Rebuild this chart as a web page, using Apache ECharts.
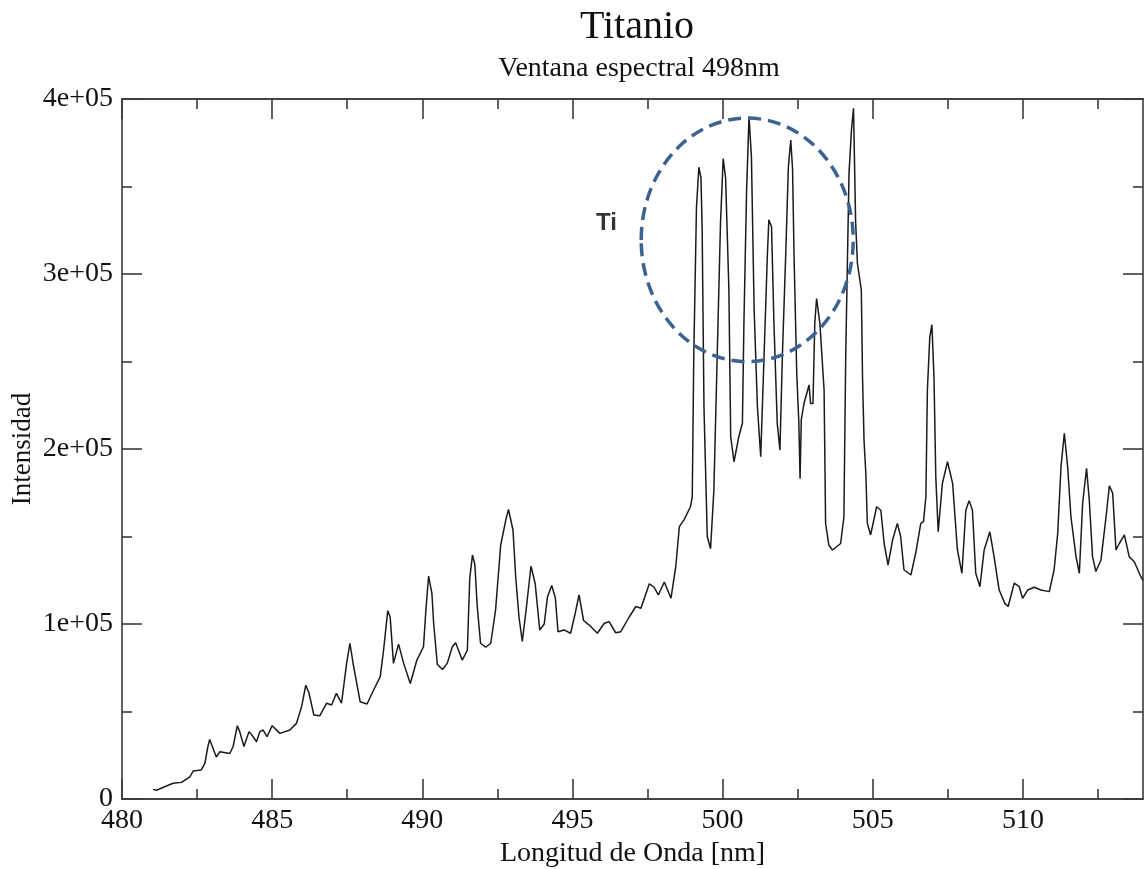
<!DOCTYPE html>
<html>
<head>
<meta charset="utf-8">
<script src="https://cdn.jsdelivr.net/npm/echarts@6/dist/echarts.min.js"></script>
<style>
html,body{margin:0;padding:0;background:#fff;}
#chart{width:1144px;height:869px;}
</style>
</head>
<body>
<div id="chart"></div>
<script>
// Wavelength (nm)
const wavelength = [
481.03,481.15,481.48,481.7,481.98,482.26,482.37,482.64,482.76,482.86,482.92,482.98,483.14,483.26,483.59,483.7,483.84,483.92,484.06,484.23,
484.35,484.48,484.59,484.7,484.83,485.0,485.26,485.59,485.81,485.98,486.12,486.22,486.39,486.59,486.81,486.98,487.14,487.31,487.48,487.59,
487.7,487.93,488.16,488.38,488.6,488.71,488.85,488.93,489.04,489.21,489.38,489.6,489.82,490.04,490.12,490.21,490.32,490.38,490.5,490.67,
490.83,491.0,491.11,491.33,491.5,491.58,491.67,491.75,491.83,491.94,492.11,492.28,492.44,492.61,492.78,492.87,493.02,493.11,493.22,493.33,
493.47,493.62,493.76,493.91,494.06,494.17,494.31,494.43,494.52,494.72,494.94,495.09,495.22,495.37,495.56,495.83,496.06,496.22,496.44,496.61,
496.89,497.11,497.28,497.56,497.72,497.86,498.06,498.28,498.44,498.56,498.71,498.93,498.99,499.04,499.13,499.21,499.28,499.32,499.38,499.49,
499.6,499.71,499.82,499.93,500.02,500.1,500.21,500.27,500.38,500.54,500.66,500.71,500.8,500.88,500.96,501.05,501.16,501.27,501.38,501.49,
501.54,501.63,501.71,501.82,501.91,501.99,502.1,502.19,502.27,502.33,502.38,502.47,502.54,502.58,502.62,502.71,502.88,502.93,503.01,503.07,
503.13,503.24,503.38,503.43,503.54,503.66,503.93,504.04,504.1,504.21,504.29,504.36,504.43,504.49,504.62,504.66,504.71,504.77,504.82,504.93,
505.13,505.27,505.38,505.51,505.66,505.82,505.93,506.04,506.27,506.43,506.6,506.69,506.77,506.82,506.9,506.97,507.04,507.1,507.18,507.32,
507.49,507.66,507.82,507.97,508.1,508.21,508.32,508.43,508.57,508.71,508.9,509.04,509.21,509.4,509.51,509.71,509.88,509.99,510.16,510.38,
510.6,510.88,511.04,511.16,511.27,511.38,511.49,511.6,511.77,511.88,511.99,512.12,512.21,512.32,512.43,512.6,512.77,512.88,512.99,513.1,
513.21,513.38,513.54,513.71,513.93,514.0
];
// Intensity
const intensity = [
5500,5000,7400,9000,9500,12700,16000,16600,20400,30000,34000,33000,24000,27000,26000,30000,41900,38500,30000,38500,
36000,32700,38500,39400,35600,41900,37500,39400,43200,52700,65000,61000,48000,47600,54700,53700,60400,54700,77500,89000,
77000,55600,54300,62300,69900,85000,107600,104000,77500,88500,77500,66000,79400,87000,108000,127400,117500,100000,77000,74000,
77500,87000,89300,79400,85000,126000,139400,134000,110000,89000,86700,89000,108000,145000,159400,165500,153700,127000,104000,90000,
110000,133000,123000,96600,100000,115600,122000,115000,95600,96600,94700,106000,116600,102000,99400,94700,100400,101300,95000,95600,
104000,110000,109000,123000,121000,116600,124000,114700,132700,155600,159400,167000,172700,252700,338000,361000,355000,325000,224000,150000,
143000,176600,252700,329000,366000,355000,291000,207000,192700,207000,214700,271800,348000,390000,367000,280000,224000,195600,252700,310000,
331000,327000,271800,214700,199400,252700,310000,361000,376600,360000,310000,243000,214700,183000,216600,226000,236600,226000,226000,271800,
286000,271800,233700,157500,145000,142300,146000,161000,252700,357500,382000,394700,330000,306000,291000,241000,205000,186000,157500,150900,
167000,165000,146000,133700,148000,157500,150000,131000,128000,140400,157500,158500,172700,233700,264000,271000,241000,184000,152700,180400,
192700,180400,142300,129000,165000,170500,165000,129000,121300,142300,152700,138500,119400,111800,110000,123300,121300,114700,119400,121000,
119400,118500,131000,151800,190000,209000,190000,161300,138500,129000,169000,189000,171000,138500,130000,136600,161300,179000,174700,142300,
146000,150900,138500,135600,127000,125000
];
const xMajorTicks = [480, 485, 490, 495, 500, 505, 510];
const xMinorTicks = [482.5, 487.5, 492.5, 497.5, 502.5, 507.5, 512.5];
const yTickLabels = ['0', '1e+05', '2e+05', '3e+05', '4e+05'];
// Annotation: ellipse [centre x, centre y, radius x (nm), radius y (intensity)]
const ellipse = [[500.82, 319500, 3.53, 69600]];
const tiLabel = [[496.13, 329000]];

const XMIN = 480, XMAX = 514;
const serif = '"Liberation Serif", "Times New Roman", serif';
const axisColor = '#3a3a3a';

const chart = echarts.init(document.getElementById('chart'), null, {renderer: 'canvas'});

function xAxisDef(pos, major, showLabel) {
  return {
    type: 'value', gridIndex: 0, position: pos, min: XMIN, max: XMAX,
    axisLine: {show: true, onZero: false, lineStyle: {color: axisColor, width: 1.6}},
    axisTick: {show: true, inside: true, length: major ? 20 : 10,
      customValues: major ? xMajorTicks : xMinorTicks,
      lineStyle: {color: axisColor, width: 1.6}},
    axisLabel: {show: showLabel, customValues: xMajorTicks, margin: 8,
      fontFamily: serif, fontSize: 28, color: '#111'},
    splitLine: {show: false}
  };
}

const xAxes = [
  Object.assign(xAxisDef('bottom', true, true), {
    name: 'Longitud de Onda [nm]', nameLocation: 'middle', nameGap: 40,
    nameTextStyle: {fontFamily: serif, fontSize: 28, color: '#111'}
  }),
  xAxisDef('bottom', false, false),
  xAxisDef('top', true, false),
  xAxisDef('top', false, false)
];

function yAxisDef(pos, showLabel) {
  return {
    type: 'value', position: pos, min: 0, max: 400000, interval: 100000,
    axisLine: {show: true, onZero: false, lineStyle: {color: axisColor, width: 1.6}},
    axisTick: {show: true, inside: true, length: 20, lineStyle: {color: axisColor, width: 1.6}},
    minorTick: {show: true, splitNumber: 2, length: 10, lineStyle: {color: axisColor, width: 1.6}},
    axisLabel: {show: showLabel, margin: 9, fontFamily: serif, fontSize: 28, color: '#111',
      formatter: function (v) { return yTickLabels[Math.round(v / 100000)]; }},
    splitLine: {show: false}
  };
}

const yAxes = [
  Object.assign(yAxisDef('left', true), {
    name: 'Intensidad', nameLocation: 'middle', nameGap: 86, nameRotate: 90,
    nameMoveOverlap: false,
    nameTextStyle: {fontFamily: serif, fontSize: 27, color: '#111'}
  }),
  yAxisDef('right', false)
];

const lineData = wavelength.map((w, i) => [w, intensity[i]]);

chart.setOption({
  animation: false,
  backgroundColor: '#fff',
  title: [
    {text: 'Titanio', left: 632, top: 2, textAlign: 'center',
      textStyle: {fontFamily: serif, fontSize: 40, fontWeight: 'normal', color: '#111'}},
    {text: 'Ventana espectral 498nm', left: 634, top: 50, textAlign: 'center',
      textStyle: {fontFamily: serif, fontSize: 28, fontWeight: 'normal', color: '#111'}}
  ],
  grid: {left: 122, top: 99, right: 1, bottom: 70, containLabel: false, outerBoundsMode: 'none'},
  xAxis: xAxes,
  yAxis: yAxes,
  series: [
    {
      type: 'line', xAxisIndex: 0, yAxisIndex: 0, data: lineData,
      showSymbol: false, symbol: 'none', smooth: false,
      lineStyle: {color: '#1a1a1a', width: 1.5}, z: 2
    },
    {
      type: 'custom', xAxisIndex: 0, yAxisIndex: 0, data: ellipse, z: 3, clip: false,
      renderItem: function (params, api) {
        const c = api.coord([api.value(0), api.value(1)]);
        const s = api.size([api.value(2), api.value(3)]);
        return {
          type: 'ellipse',
          shape: {cx: c[0], cy: c[1], rx: s[0], ry: s[1]},
          style: {fill: 'none', stroke: '#3b6291', lineWidth: 3.5, lineDash: [13, 7]}
        };
      }
    },
    {
      type: 'scatter', xAxisIndex: 0, yAxisIndex: 0, data: tiLabel, symbolSize: 1,
      itemStyle: {color: 'rgba(0,0,0,0)'}, z: 4,
      label: {show: true, position: 'inside', formatter: 'Ti',
        fontFamily: '"Liberation Sans", Arial, sans-serif', fontWeight: 'bold', fontSize: 24, color: '#000'}
    }
  ]
});
</script>
</body>
</html>
